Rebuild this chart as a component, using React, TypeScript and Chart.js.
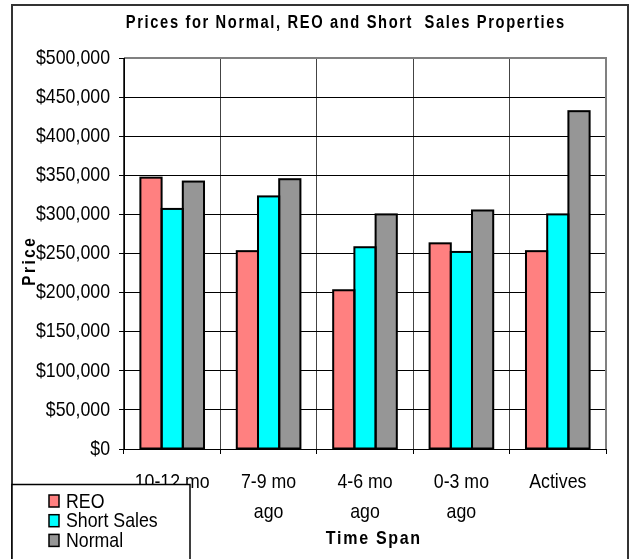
import React, { useEffect, useRef } from "react";
import { Chart, registerables } from "chart.js";

Chart.register(...registerables);

const categories: (string | string[])[] = [
  ["10-12 mo", "ago"],
  ["7-9 mo", "ago"],
  ["4-6 mo", "ago"],
  ["0-3 mo", "ago"],
  "Actives",
];
const seriesNames = ["REO", "Short Sales", "Normal"];
const reoValues = [347000, 253000, 203000, 263000, 253000];
const shortSalesValues = [307000, 323000, 258000, 252000, 300000];
const normalValues = [342000, 345000, 300000, 305000, 432000];
const seriesColors = ["#FF8080", "#00FFFF", "#969696"];
const yTicks = [0, 50000, 100000, 150000, 200000, 250000, 300000, 350000, 400000, 450000, 500000];

const chartTitle = "Prices for Normal, REO and Short  Sales Properties";
const xTitle = "Time Span";
const yTitle = "Price";

const FONT = "'Liberation Sans', Arial, sans-serif";
const SX = 0.845; // horizontal condensing of the label glyphs

function drawText(
  ctx: CanvasRenderingContext2D,
  text: string,
  x: number,
  y: number,
  font: string,
  spacing: number,
  targetW: number | null,
  rotate = 0
) {
  ctx.save();
  ctx.font = font;
  (ctx as any).letterSpacing = spacing + "px";
  const w = ctx.measureText(text).width;
  const sx = targetW ? targetW / w : SX;
  ctx.translate(x, y);
  if (rotate) ctx.rotate(rotate);
  ctx.scale(sx, 1);
  ctx.textAlign = "center";
  ctx.textBaseline = "alphabetic";
  ctx.fillStyle = "#000";
  ctx.fillText(text, spacing / 2, 0);
  ctx.restore();
}

function drawLabel(
  ctx: CanvasRenderingContext2D,
  text: string,
  x: number,
  y: number,
  align: CanvasTextAlign
) {
  ctx.save();
  ctx.font = "21px " + FONT;
  ctx.translate(x, y);
  ctx.scale(SX, 1);
  ctx.textAlign = align;
  ctx.textBaseline = "middle";
  ctx.fillStyle = "#000";
  ctx.fillText(text, 0, 0);
  ctx.restore();
}

const fmtMoney = (v: number) => "$" + Number(v).toLocaleString("en-US");

const decor = {
  id: "decor",
  afterDatasetsDraw(chart: any) {
    const ctx: CanvasRenderingContext2D = chart.ctx;
    ctx.save();
    ctx.strokeStyle = "#000";
    ctx.lineWidth = 2;
    ctx.lineJoin = "miter";
    chart.data.datasets.forEach((_: any, i: number) => {
      const meta = chart.getDatasetMeta(i);
      meta.data.forEach((el: any) => {
        const p = el.getProps(["x", "y", "base", "width"], true);
        ctx.strokeRect(p.x - p.width / 2, p.y, p.width, p.base - p.y);
      });
    });
    ctx.restore();
  },
  afterDraw(chart: any) {
    const ctx: CanvasRenderingContext2D = chart.ctx;
    const a = chart.chartArea;
    const xs = chart.scales.x;
    const ys = chart.scales.y;
    ctx.save();
    // plot frame top & right
    ctx.strokeStyle = "#808080";
    ctx.lineWidth = 2;
    ctx.beginPath();
    ctx.moveTo(a.left, a.top);
    ctx.lineTo(a.right, a.top);
    ctx.lineTo(a.right, a.bottom);
    ctx.stroke();
    ctx.strokeStyle = "#000";
    ctx.lineWidth = 1;
    ctx.beginPath();
    ctx.moveTo(Math.round(a.left) + 0.5, a.top);
    ctx.lineTo(Math.round(a.left) + 0.5, a.bottom);
    ctx.stroke();

    // outer border
    ctx.strokeStyle = "#333";
    ctx.lineWidth = 2;
    ctx.strokeRect(12, 5, 616, 620);

    // y tick labels
    ys.ticks.forEach((t: any) => {
      drawLabel(ctx, fmtMoney(t.value), 110, ys.getPixelForValue(t.value), "right");
    });
    // x tick labels
    (chart.data.labels as any[]).forEach((lab, i) => {
      const lines = Array.isArray(lab) ? lab : [lab];
      const x = xs.getPixelForValue(i);
      lines.forEach((ln: string, j: number) => {
        drawLabel(ctx, ln, x, a.bottom + 33 + j * 30, "center");
      });
    });

    // titles
    drawText(ctx, chartTitle, 345, 28, "bold 18px " + FONT, 2, 440);
    drawText(ctx, xTitle, 373, 544, "bold 19px " + FONT, 2, 96);
    drawText(ctx, yTitle, 35, 262, "bold 18px " + FONT, 3, null, -Math.PI / 2);

    // legend
    ctx.fillStyle = "#fff";
    ctx.fillRect(12, 484, 178, 120);
    ctx.strokeStyle = "#000";
    ctx.lineWidth = 1.5;
    ctx.strokeRect(12, 484.5, 178, 120);
    chart.data.datasets.forEach((ds: any, i: number) => {
      const cy = 501 + i * 19.7;
      ctx.fillStyle = ds.backgroundColor;
      ctx.fillRect(49, cy - 6, 10, 12);
      ctx.strokeStyle = "#000";
      ctx.lineWidth = 1.5;
      ctx.strokeRect(49, cy - 6, 10, 12);
      drawLabel(ctx, ds.label, 66, cy + 1, "left");
    });
    ctx.restore();
  },
};

export default function App() {
  const ref = useRef<HTMLCanvasElement>(null);
  useEffect(() => {
    if (!ref.current) return;
    const values = [reoValues, shortSalesValues, normalValues];
    const chart = new Chart(ref.current, {
      type: "bar",
      data: {
        labels: categories as any,
        datasets: seriesNames.map((name, i) => ({
          label: name,
          data: values[i],
          backgroundColor: seriesColors[i],
          borderWidth: 0,
          categoryPercentage: 0.66,
          barPercentage: 1,
        })),
      },
      options: {
        responsive: false,
        animation: false,
        layout: { padding: { top: 58, right: 26, bottom: 0, left: 0 } },
        plugins: {
          legend: { display: false },
          title: { display: false },
          tooltip: { enabled: false },
        },
        scales: {
          x: {
            grid: { color: "#444", tickLength: 5, offset: true, tickColor: "#000" },
            border: { color: "#000", width: 1 },
            ticks: { display: false, autoSkip: false, maxRotation: 0 },
            afterFit: (s: any) => {
              s.height = 110;
            },
          },
          y: {
            min: yTicks[0],
            max: yTicks[yTicks.length - 1],
            afterBuildTicks: (s: any) => {
              s.ticks = yTicks.map((v) => ({ value: v }));
            },
            ticks: { display: false },
            grid: { color: "#000", tickLength: 5, tickColor: "#000" },
            border: { color: "#000", width: 1 },
            afterFit: (s: any) => {
              s.width = 124;
            },
          },
        },
      },
      plugins: [decor],
    });
    return () => chart.destroy();
  }, []);
  return (
    <div style={{ position: "absolute", left: 0, top: 0, width: 632, height: 559, background: "#fff" }}>
      <canvas ref={ref} width={632} height={559} style={{ display: "block", width: 632, height: 559 }} />
    </div>
  );
}
